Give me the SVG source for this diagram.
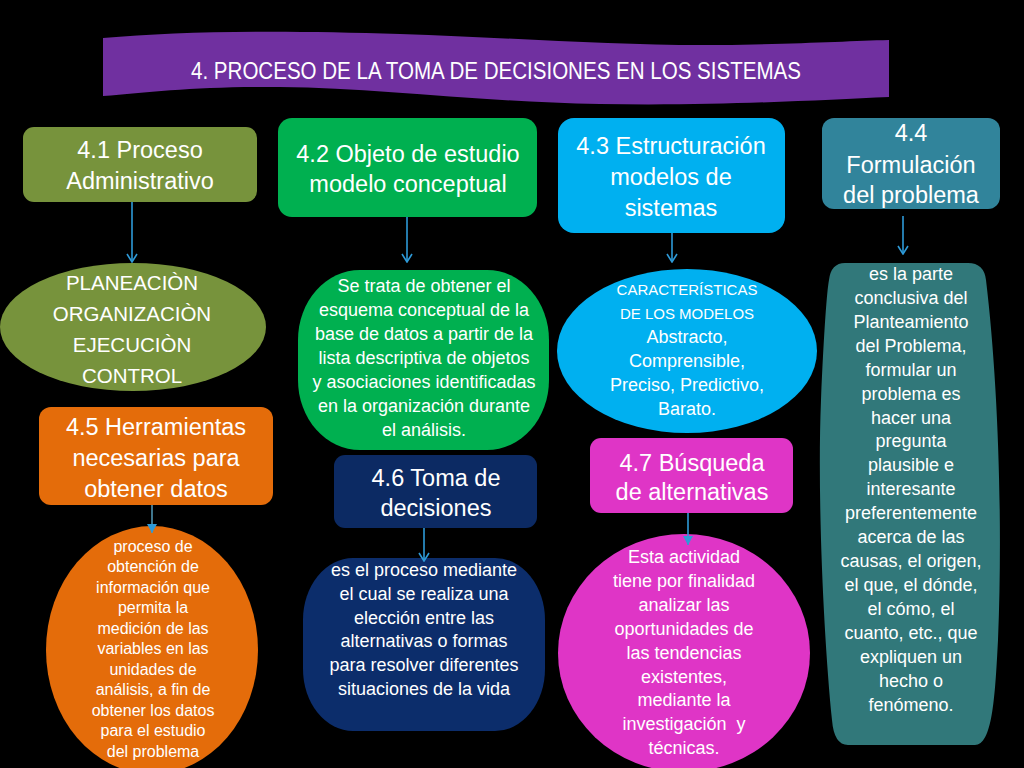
<svg xmlns="http://www.w3.org/2000/svg" width="1024" height="768" viewBox="0 0 1024 768">
<defs>
<style>
text{font-family:"Liberation Sans","Open Sans",sans-serif;fill:#ffffff;text-anchor:middle}
.h{font-size:23.5px}
.b{font-size:18px}
.s{font-size:16px}
.c{font-size:20.5px}
.k{font-size:15px}
.con{stroke:#2E9AD8;stroke-width:1.6;fill:none}
</style>
<marker id="chev" viewBox="0 0 12 12" refX="11" refY="6" markerWidth="12" markerHeight="12" markerUnits="userSpaceOnUse" orient="auto">
<path d="M3,1 L11,6 L3,11" fill="none" stroke="#2E9AD8" stroke-width="1.6"/>
</marker>
<marker id="tri" viewBox="0 0 12 12" refX="11" refY="6" markerWidth="12" markerHeight="12" markerUnits="userSpaceOnUse" orient="auto">
<path d="M2,1 L11,6 L2,11 Z" fill="#2E9AD8"/>
</marker>
</defs>
<rect width="1024" height="768" fill="#000000"/>

<g id="title">
<path d="M103,38 C180,31 280,30 400,34 C520,38 620,46 720,45 C800,44 850,41 889,40 L889,97 C820,100 720,106 600,104 C480,102 380,88 280,87 C200,86 150,92 103,96 Z" fill="#7030A0"/>
<text x="496" y="79" font-size="23" textLength="610" lengthAdjust="spacingAndGlyphs">4. PROCESO DE LA TOMA DE DECISIONES EN LOS SISTEMAS</text>
</g>

<g id="n41">
<rect x="23" y="127" width="234" height="75" rx="11" fill="#77933C"/>
<text class="h" x="140"><tspan x="140" y="158">4.1 Proceso</tspan><tspan x="140" y="189">Administrativo</tspan></text>
</g>
<g id="n42">
<rect x="278" y="118" width="259" height="99" rx="14" fill="#00B050"/>
<text class="h" x="408"><tspan x="408" y="162">4.2 Objeto de estudio</tspan><tspan x="408" y="192">modelo conceptual</tspan></text>
</g>
<g id="n43">
<rect x="558" y="118" width="227" height="115" rx="16" fill="#00B0F0"/>
<text class="h" x="671"><tspan x="671" y="154">4.3 Estructuración</tspan><tspan x="671" y="185">modelos de</tspan><tspan x="671" y="216">sistemas</tspan></text>
</g>
<g id="n44">
<rect x="822" y="118" width="178" height="91" rx="12" fill="#31849B"/>
<text class="h" x="911"><tspan x="911" y="141">4.4</tspan><tspan x="911" y="173">Formulación</tspan><tspan x="911" y="203">del problema</tspan></text>
</g>

<g id="d41">
<ellipse cx="133" cy="327" rx="133" ry="64" fill="#77933C"/>
<text class="c"><tspan x="132" y="290">PLANEACIÒN</tspan><tspan x="132" y="321">ORGANIZACIÒN</tspan><tspan x="132" y="352">EJECUCIÒN</tspan><tspan x="132" y="383">CONTROL</tspan></text>
</g>
<g id="d42">
<rect x="298" y="270" width="251" height="180" rx="62" ry="70" fill="#00B050"/>
<text class="b"><tspan x="424" y="292">Se trata de obtener el</tspan><tspan x="424" y="316">esquema conceptual de la</tspan><tspan x="424" y="340">base de datos a partir de la</tspan><tspan x="424" y="364">lista descriptiva de objetos</tspan><tspan x="424" y="388">y asociaciones identificadas</tspan><tspan x="424" y="412">en la organización durante</tspan><tspan x="424" y="436">el análisis.</tspan></text>
</g>
<g id="d43">
<ellipse cx="687" cy="351" rx="130" ry="82" fill="#00B0F0"/>
<text><tspan class="k" x="687" y="295">CARACTERÍSTICAS</tspan><tspan class="k" x="687" y="319">DE LOS MODELOS</tspan><tspan class="b" x="687" y="343">Abstracto,</tspan><tspan class="b" x="687" y="367">Comprensible,</tspan><tspan class="b" x="687" y="391">Preciso, Predictivo,</tspan><tspan class="b" x="687" y="415">Barato.</tspan></text>
</g>
<g id="d44">
<path d="M845,263 L968,263 Q984,263 986,280 C998,380 1003,520 998,640 C995,700 992,745 975,745 L848,745 Q834,745 832,720 C824,640 817,500 821,400 C824,330 827,290 829,280 Q831,263 845,263 Z" fill="#31787A"/>
<text class="b"><tspan x="911" y="280">es la parte</tspan><tspan x="911" y="304">conclusiva del</tspan><tspan x="911" y="328">Planteamiento</tspan><tspan x="911" y="352">del Problema,</tspan><tspan x="911" y="376">formular un</tspan><tspan x="911" y="400">problema es</tspan><tspan x="911" y="424">hacer una</tspan><tspan x="911" y="447">pregunta</tspan><tspan x="911" y="471">plausible e</tspan><tspan x="911" y="495">interesante</tspan><tspan x="911" y="519">preferentemente</tspan><tspan x="911" y="543">acerca de las</tspan><tspan x="911" y="567">causas, el origen,</tspan><tspan x="911" y="591">el que, el dónde,</tspan><tspan x="911" y="615">el cómo, el</tspan><tspan x="911" y="639">cuanto, etc., que</tspan><tspan x="911" y="663">expliquen un</tspan><tspan x="911" y="687">hecho o</tspan><tspan x="911" y="711">fenómeno.</tspan></text>
</g>

<g id="n45">
<rect x="39" y="407" width="234" height="98" rx="12" fill="#E46C0A"/>
<text class="h"><tspan x="156" y="435">4.5 Herramientas</tspan><tspan x="156" y="466">necesarias para</tspan><tspan x="156" y="497">obtener datos</tspan></text>
</g>
<g id="n46">
<rect x="334" y="455" width="203" height="73" rx="11" fill="#0C2A63"/>
<text class="h"><tspan x="436" y="486">4.6 Toma de</tspan><tspan x="436" y="516">decisiones</tspan></text>
</g>
<g id="n47">
<rect x="590" y="438" width="203" height="75" rx="11" fill="#DF35C6"/>
<text class="h"><tspan x="692" y="471">4.7 Búsqueda</tspan><tspan x="692" y="500">de alternativas</tspan></text>
</g>

<g id="d45">
<ellipse cx="152" cy="650" rx="106" ry="124" fill="#E46C0A"/>
<text class="s"><tspan x="153" y="552">proceso de</tspan><tspan x="153" y="572">obtención de</tspan><tspan x="153" y="593">información que</tspan><tspan x="153" y="613">permita la</tspan><tspan x="153" y="634">medición de las</tspan><tspan x="153" y="654">variables en las</tspan><tspan x="153" y="675">unidades de</tspan><tspan x="153" y="695">análisis, a fin de</tspan><tspan x="153" y="716">obtener los datos</tspan><tspan x="153" y="736">para el estudio</tspan><tspan x="153" y="757">del problema</tspan></text>
</g>
<g id="d46">
<rect x="303" y="558" width="242" height="173" rx="50" ry="62" fill="#0C2D6B"/>
<text class="b"><tspan x="424" y="576">es el proceso mediante</tspan><tspan x="424" y="600">el cual se realiza una</tspan><tspan x="424" y="624">elección entre las</tspan><tspan x="424" y="647">alternativas o formas</tspan><tspan x="424" y="671">para resolver diferentes</tspan><tspan x="424" y="695">situaciones de la vida</tspan></text>
</g>
<g id="d47">
<ellipse cx="684" cy="653" rx="126" ry="119" fill="#DF35C6"/>
<text class="b"><tspan x="684" y="563">Esta actividad</tspan><tspan x="684" y="587">tiene por finalidad</tspan><tspan x="684" y="611">analizar las</tspan><tspan x="684" y="635">oportunidades de</tspan><tspan x="684" y="659">las tendencias</tspan><tspan x="684" y="683">existentes,</tspan><tspan x="684" y="706">mediante la</tspan><tspan x="684" y="730">investigación&#160; y</tspan><tspan x="684" y="754">técnicas.</tspan></text>
</g>

<g id="connectors">
<line class="con" x1="132" y1="202" x2="132" y2="262" marker-end="url(#chev)"/>
<line class="con" x1="407" y1="217" x2="407" y2="262" marker-end="url(#chev)"/>
<line class="con" x1="672" y1="233" x2="672" y2="262" marker-end="url(#chev)"/>
<line class="con" x1="903" y1="216" x2="903" y2="254" marker-end="url(#chev)"/>
<line class="con" x1="152" y1="505" x2="152" y2="533" stroke-width="2.2" style="stroke:#4F93B0" marker-end="url(#tri)"/>
<line class="con" x1="424" y1="528" x2="424" y2="561" marker-end="url(#chev)"/>
<line class="con" x1="688" y1="513" x2="688" y2="545" stroke-width="2" marker-end="url(#tri)"/>
</g>
</svg>
